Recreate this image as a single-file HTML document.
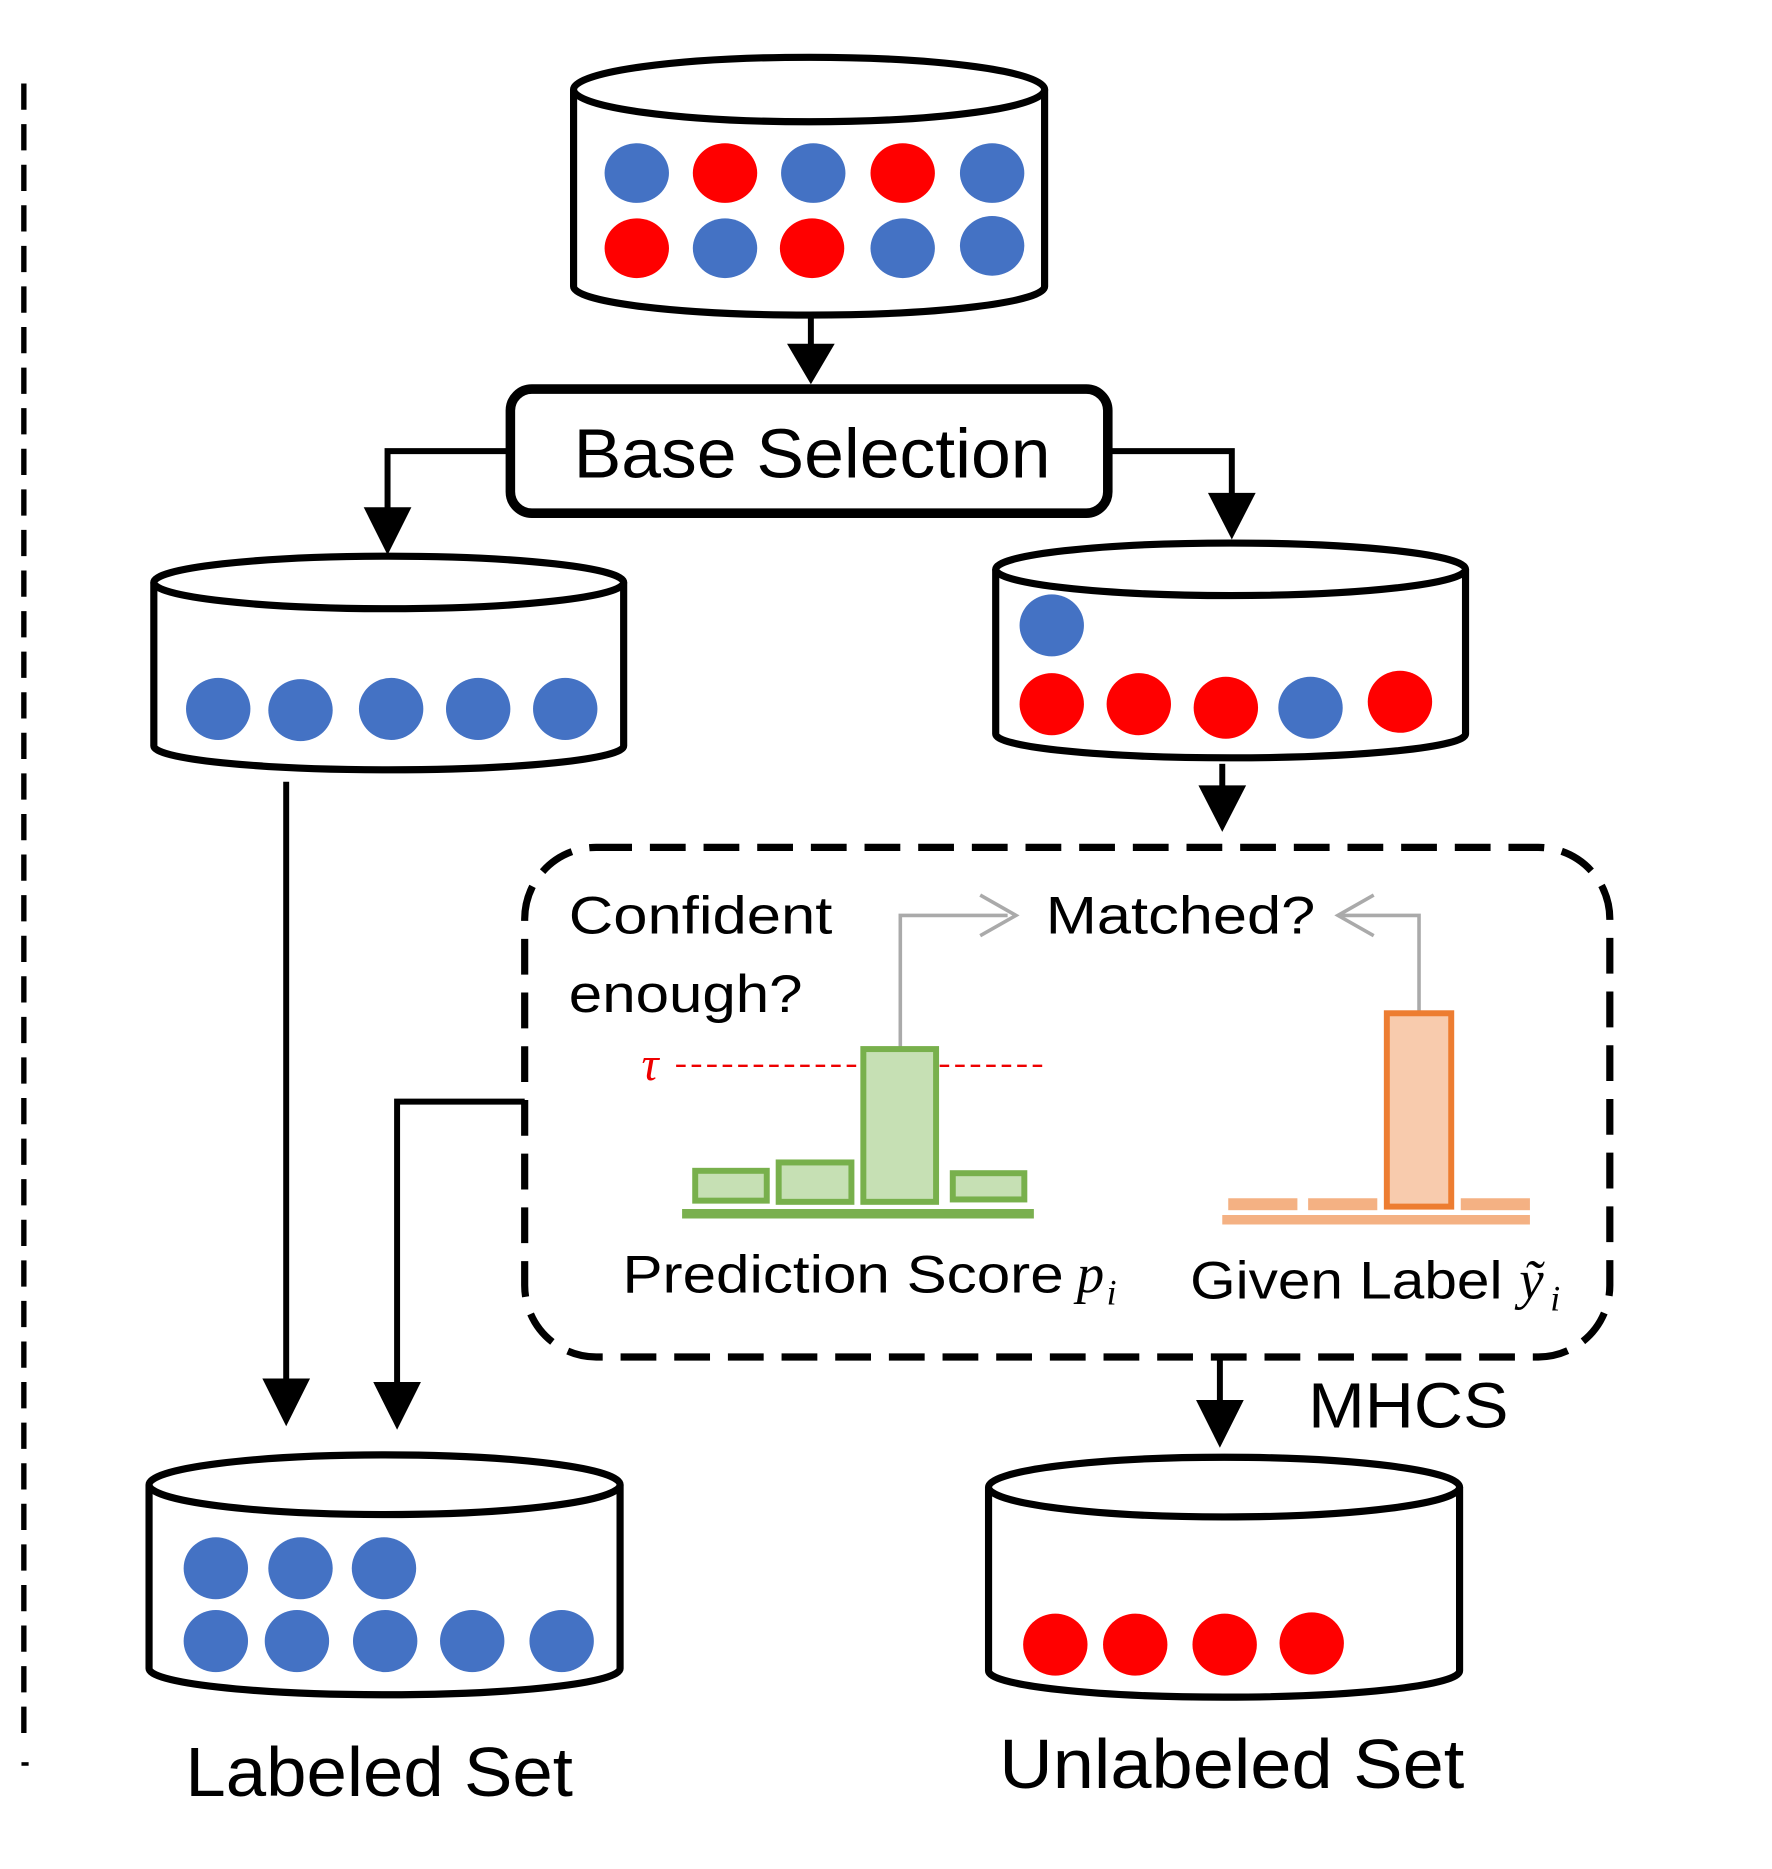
<!DOCTYPE html>
<html><head><meta charset="utf-8"><style>html,body{margin:0;padding:0;background:#fff}svg{display:block}</style></head><body>
<svg width="1772" height="1869" viewBox="0 0 1486 1566" preserveAspectRatio="none" xmlns="http://www.w3.org/2000/svg" font-family="'Liberation Sans', sans-serif">
<rect width="1500" height="1582" fill="#fff"/>
<line x1="20" y1="70" x2="20" y2="1460" stroke="#000" stroke-width="4.5" stroke-dasharray="22,12"/>
<line x1="18" y1="1478" x2="24" y2="1478" stroke="#000" stroke-width="3"/>

<g stroke="#000" stroke-width="6" fill="#fff">
<path d="M481,75 L481,240 A197.5,24 0 0 0 876,240 L876,75"/>
<ellipse cx="678.5" cy="75" rx="197.5" ry="27"/>
<path d="M129,488 L129,625 A197,20 0 0 0 523,625 L523,488"/>
<ellipse cx="326" cy="488" rx="197" ry="22"/>
<path d="M835,477 L835,615 A197,20 0 0 0 1229,615 L1229,477"/>
<ellipse cx="1032" cy="477" rx="197" ry="22"/>
<path d="M125,1244 L125,1398 A197.5,22 0 0 0 520,1398 L520,1244"/>
<ellipse cx="322.5" cy="1244" rx="197.5" ry="25"/>
<path d="M829,1246 L829,1400 A197.5,22 0 0 0 1224,1400 L1224,1246"/>
<ellipse cx="1026.5" cy="1246" rx="197.5" ry="25"/>
</g>

<g>
<ellipse cx="534" cy="145" rx="27" ry="25" fill="#4472c4"/>
<ellipse cx="608" cy="145" rx="27" ry="25" fill="#f00"/>
<ellipse cx="682" cy="145" rx="27" ry="25" fill="#4472c4"/>
<ellipse cx="757" cy="145" rx="27" ry="25" fill="#f00"/>
<ellipse cx="832" cy="145" rx="27" ry="25" fill="#4472c4"/>
<ellipse cx="534" cy="208" rx="27" ry="25" fill="#f00"/>
<ellipse cx="608" cy="208" rx="27" ry="25" fill="#4472c4"/>
<ellipse cx="681" cy="208" rx="27" ry="25" fill="#f00"/>
<ellipse cx="757" cy="208" rx="27" ry="25" fill="#4472c4"/>
<ellipse cx="832" cy="206" rx="27" ry="25" fill="#4472c4"/>

<g fill="#4472c4">
<ellipse cx="183" cy="594" rx="27" ry="26"/><ellipse cx="252" cy="595" rx="27" ry="26"/><ellipse cx="328" cy="594" rx="27" ry="26"/><ellipse cx="401" cy="594" rx="27" ry="26"/><ellipse cx="474" cy="594" rx="27" ry="26"/>
<ellipse cx="882" cy="524" rx="27" ry="26"/><ellipse cx="1099" cy="593" rx="27" ry="26"/>
<ellipse cx="181" cy="1314" rx="27" ry="26"/><ellipse cx="252" cy="1314" rx="27" ry="26"/><ellipse cx="322" cy="1314" rx="27" ry="26"/>
<ellipse cx="181" cy="1375" rx="27" ry="26"/><ellipse cx="249" cy="1375" rx="27" ry="26"/><ellipse cx="323" cy="1375" rx="27" ry="26"/><ellipse cx="396" cy="1375" rx="27" ry="26"/><ellipse cx="471" cy="1375" rx="27" ry="26"/>
</g>
<g fill="#f00">
<ellipse cx="882" cy="590" rx="27" ry="26"/><ellipse cx="955" cy="590" rx="27" ry="26"/><ellipse cx="1028" cy="593" rx="27" ry="26"/><ellipse cx="1174" cy="588" rx="27" ry="26"/>
<ellipse cx="885" cy="1378" rx="27" ry="26"/><ellipse cx="952" cy="1378" rx="27" ry="26"/><ellipse cx="1027" cy="1378" rx="27" ry="26"/><ellipse cx="1100" cy="1377" rx="27" ry="26"/>
</g>
</g>

<rect x="428" y="326" width="501" height="104" rx="18" fill="#fff" stroke="#000" stroke-width="8"/>
<text x="681" y="400" font-size="58" text-anchor="middle" textLength="400" lengthAdjust="spacingAndGlyphs">Base Selection</text>

<g stroke="#000" stroke-width="5" fill="none">
<line x1="680" y1="265" x2="680" y2="292"/>
<polyline points="425,378 325,378 325,430"/>
<polyline points="932,378 1033,378 1033,418"/>
<line x1="1025" y1="640" x2="1025" y2="662"/>
<line x1="240" y1="655" x2="240" y2="1158"/>
<polyline points="440,923 333,923 333,1162"/>
<line x1="1023" y1="1137" x2="1023" y2="1178"/>
</g>
<g fill="#000">
<polygon points="660,288 700,288 680,322"/>
<polygon points="305,425 345,425 325,465"/>
<polygon points="1013,413 1053,413 1033,452"/>
<polygon points="1005,658 1045,658 1025,697"/>
<polygon points="220,1155 260,1155 240,1195"/>
<polygon points="313,1158 353,1158 333,1198"/>
<polygon points="1003,1173 1043,1173 1023,1213"/>
</g>

<rect x="440" y="710" width="910" height="427" rx="60" fill="none" stroke="#000" stroke-width="6" stroke-dasharray="30,15"/>

<text x="477" y="782" font-size="44" textLength="221" lengthAdjust="spacingAndGlyphs">Confident</text>
<text x="477" y="848" font-size="44" textLength="196" lengthAdjust="spacingAndGlyphs">enough?</text>
<text x="877" y="782" font-size="44" textLength="226" lengthAdjust="spacingAndGlyphs">Matched?</text>

<g stroke="#aaa" stroke-width="3" fill="none">
<polyline points="755,877 755,767 845,767"/>
<polyline points="822,750 852,767 822,784"/>
<polyline points="1190,848 1190,767 1125,767"/>
<polyline points="1152,750 1122,767 1152,784"/>
</g>

<text x="538" y="905" font-size="40" font-style="italic" fill="#e00" font-family="'Liberation Serif', serif">τ</text>
<line x1="567" y1="893" x2="875" y2="893" stroke="#e00" stroke-width="2" stroke-dasharray="8,5"/>

<line x1="572" y1="1017" x2="867" y2="1017" stroke="#7ab04f" stroke-width="8"/>
<g fill="#c6e0b4" stroke="#78b04c" stroke-width="5">
<rect x="583" y="981" width="60" height="25"/>
<rect x="653" y="974" width="61" height="33"/>
<rect x="724" y="879" width="61" height="128"/>
<rect x="799" y="983" width="60" height="22"/>
</g>
<line x1="1025" y1="1022" x2="1283" y2="1022" stroke="#f4b183" stroke-width="8"/>
<g fill="#f4b183">
<rect x="1030" y="1004" width="58" height="10"/>
<rect x="1097" y="1004" width="58" height="10"/>
<rect x="1225" y="1004" width="58" height="10"/>
</g>
<rect x="1163" y="849" width="54" height="162" fill="#f8cbad" stroke="#ed7d31" stroke-width="5"/>

<text x="522" y="1083" font-size="44" textLength="370" lengthAdjust="spacingAndGlyphs">Prediction Score</text>
<text x="903" y="1083" font-size="46" font-style="italic" font-family="'Liberation Serif', serif">p</text>
<text x="928" y="1093" font-size="30" font-style="italic" font-family="'Liberation Serif', serif">i</text>
<text x="998" y="1088" font-size="44" textLength="262" lengthAdjust="spacingAndGlyphs">Given Label</text>
<text x="1274" y="1088" font-size="46" font-style="italic" font-family="'Liberation Serif', serif">ỹ</text>
<text x="1300" y="1098" font-size="30" font-style="italic" font-family="'Liberation Serif', serif">i</text>

<text x="1097" y="1196" font-size="54" textLength="168" lengthAdjust="spacingAndGlyphs">MHCS</text>
<text x="318" y="1505" font-size="58" text-anchor="middle" textLength="325" lengthAdjust="spacingAndGlyphs">Labeled Set</text>
<text x="1033" y="1498" font-size="58" text-anchor="middle" textLength="390" lengthAdjust="spacingAndGlyphs">Unlabeled Set</text>
</svg>
</body></html>
